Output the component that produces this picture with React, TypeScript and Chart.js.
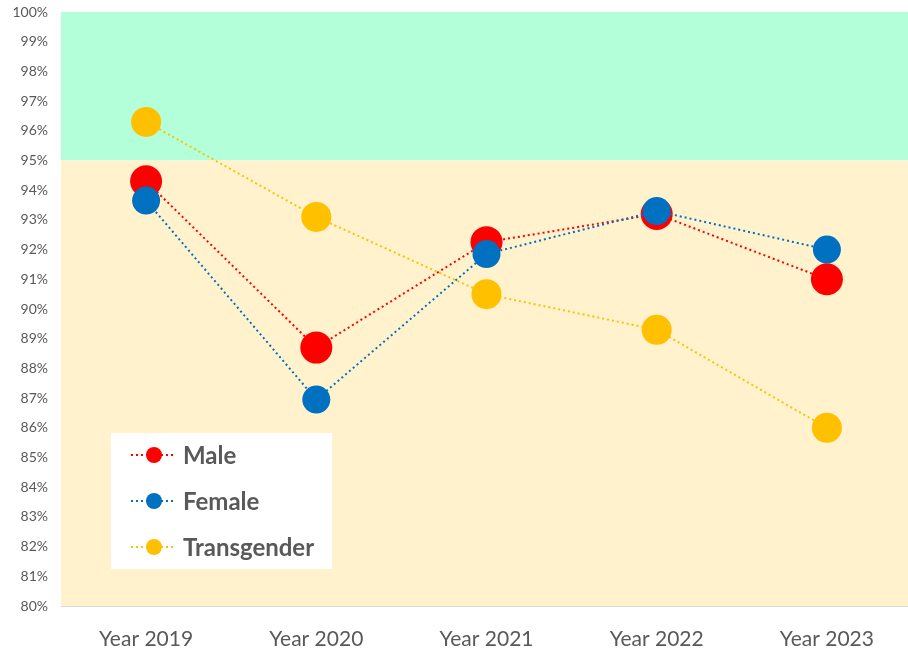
import React, { useEffect, useRef } from "react";
import { Chart, registerables } from "chart.js";

Chart.register(...registerables);

const categories = ["Year 2019", "Year 2020", "Year 2021", "Year 2022", "Year 2023"];
const maleValues = [94.3, 88.7, 92.25, 93.2, 91.0];
const femaleValues = [93.65, 86.95, 91.85, 93.3, 92.0];
const transValues = [96.3, 93.1, 90.5, 89.3, 86.0];
const seriesNames = ["Male", "Female", "Transgender"];
const seriesColors = ["#FF0000", "#0070C0", "#FFC000"];
const yMin = 80;
const yMax = 100;
const bandSplit = 95;

const FONT = "Lato, 'Open Sans', sans-serif";

const bandsPlugin = {
  id: "bands",
  beforeDatasetsDraw(chart: any) {
    const { ctx, chartArea, scales } = chart;
    const y = scales.y;
    const top = y.getPixelForValue(yMax);
    const mid = y.getPixelForValue(bandSplit);
    const bot = y.getPixelForValue(yMin);
    ctx.save();
    ctx.fillStyle = "#B3FFD9";
    ctx.fillRect(chartArea.left, top, chartArea.right - chartArea.left, mid - top);
    ctx.fillStyle = "#FFF2CC";
    ctx.fillRect(chartArea.left, mid, chartArea.right - chartArea.left, bot - mid);
    ctx.restore();
  },
};

const legendPlugin = {
  id: "customLegend",
  afterDraw(chart: any) {
    const { ctx, chartArea } = chart;
    const boxX = chartArea.left + 50;
    const boxY = 433;
    const boxW = 221;
    const boxH = 136;
    ctx.save();
    ctx.fillStyle = "#FFFFFF";
    ctx.fillRect(boxX, boxY, boxW, boxH);
    chart.data.datasets.forEach((ds: any, i: number) => {
      const cy = boxY + 22 + i * 46;
      const lx0 = boxX + 20;
      const lx1 = boxX + 64;
      const mx = boxX + 43;
      ctx.strokeStyle = ds.borderColor;
      ctx.lineWidth = 2;
      ctx.setLineDash([2, 3]);
      ctx.beginPath();
      ctx.moveTo(lx0, cy);
      ctx.lineTo(lx1, cy);
      ctx.stroke();
      ctx.setLineDash([]);
      ctx.fillStyle = ds.backgroundColor;
      ctx.beginPath();
      ctx.arc(mx, cy, 8, 0, Math.PI * 2);
      ctx.fill();
      ctx.fillStyle = "#595959";
      ctx.font = "bold 24px " + FONT;
      ctx.textBaseline = "middle";
      ctx.textAlign = "left";
      ctx.fillText(ds.label, boxX + 72, cy + 1);
    });
    ctx.restore();
  },
};

export default function App() {
  const canvasRef = useRef<HTMLCanvasElement | null>(null);

  useEffect(() => {
    document.body.style.margin = "0";
    document.body.style.overflow = "hidden";
    const canvas = canvasRef.current;
    if (!canvas) return;
    const radii = [16, 14, 15];
    const drawOrder = [2, 1, 0];
    const valueSets = [maleValues, femaleValues, transValues];
    const chart = new Chart(canvas, {
      type: "line",
      data: {
        labels: categories,
        datasets: seriesNames.map((name, i) => ({
          label: name,
          data: valueSets[i],
          order: drawOrder[i],
          borderColor: seriesColors[i],
          backgroundColor: seriesColors[i],
          pointBackgroundColor: seriesColors[i],
          pointBorderWidth: 0,
          pointRadius: radii[i],
          pointHoverRadius: radii[i],
          borderWidth: 2,
          borderDash: [2, 3],
          fill: false,
          tension: 0,
        })),
      },
      options: {
        animation: false,
        responsive: false,
        maintainAspectRatio: false,
        events: [],
        layout: { autoPadding: false, padding: { top: 12, left: 0, right: 0, bottom: 0 } },
        plugins: {
          legend: { display: false },
          tooltip: { enabled: false },
        },
        scales: {
          x: {
            offset: true,
            grid: { display: false, drawTicks: false },
            border: { display: true, color: "#D9D9D9", width: 1 },
            ticks: {
              color: "#595959",
              font: { family: FONT, size: 21 },
              padding: 21,
              maxRotation: 0,
            },
            afterFit(scale: any) {
              scale.height = 46;
              scale.paddingLeft = 0;
              scale.paddingRight = 0;
            },
          },
          y: {
            min: yMin,
            max: yMax,
            grid: { display: false, drawTicks: false },
            border: { display: false },
            ticks: {
              stepSize: 1,
              color: "#595959",
              font: { family: FONT, size: 14 },
              padding: 13,
              callback: (v: any) => v + "%",
            },
            afterFit(scale: any) {
              scale.width = 61;
              scale.paddingTop = 0;
              scale.paddingBottom = 0;
            },
          },
        },
      },
      plugins: [bandsPlugin, legendPlugin],
    });
    return () => chart.destroy();
  }, []);

  return (
    <div style={{ position: "fixed", left: 0, top: 0, width: 912, height: 652 }}>
      <canvas ref={canvasRef} width={912} height={652} style={{ display: "block" }} />
    </div>
  );
}
